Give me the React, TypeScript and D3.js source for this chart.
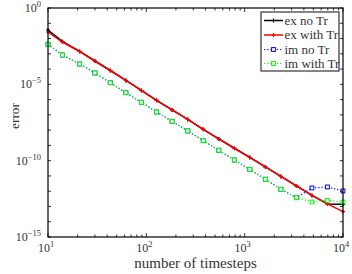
import React, { useEffect, useRef } from "react";
import * as d3 from "d3";

// number of timesteps (x) and errors
const timesteps = [10, 14, 21, 30, 43, 62, 89, 127, 183, 264, 379, 546, 785, 1129, 1624, 2336, 3360, 4833, 6952, 10000];

const exNoTr = [3.6e-2, 6.5e-3, 1.42e-3, 3.38e-4, 8.07e-5, 1.79e-5, 3.95e-6, 9.02e-7, 2.09e-7, 4.99e-8, 1.14e-8, 2.64e-9, 6.49e-10, 1.62e-10, 3.86e-11, 9.23e-12, 2.2e-12, 5.26e-13, 1.46e-13, 1.38e-13];
const exWithTr = [2.68e-2, 5.93e-3, 1.42e-3, 3.38e-4, 8.07e-5, 1.79e-5, 3.95e-6, 9.02e-7, 2.09e-7, 4.99e-8, 1.14e-8, 2.64e-9, 6.49e-10, 1.62e-10, 3.86e-11, 9.23e-12, 2.2e-12, 5.26e-13, 1.46e-13, 4.57e-14];
const imNoTr = [4.2e-3, 8.36e-4, 2.15e-4, 5.54e-5, 1.28e-5, 2.84e-6, 6.68e-7, 1.55e-7, 3.8e-8, 8.81e-9, 2.04e-9, 4.8e-10, 1.11e-10, 2.65e-11, 6.05e-12, 1.34e-12, 3.78e-13, 1.63e-12, 1.9e-12, 1.04e-12];
const imWithTr = [4.2e-3, 8.36e-4, 2.15e-4, 5.54e-5, 1.28e-5, 2.84e-6, 6.68e-7, 1.55e-7, 3.8e-8, 8.81e-9, 2.04e-9, 4.8e-10, 1.11e-10, 2.65e-11, 6.05e-12, 1.34e-12, 3.78e-13, 1.97e-13, 2.55e-13, 1.97e-13];

const seriesNames = ["ex no Tr", "ex with Tr", "im no Tr", "im with Tr"];
const xTickExps = [1, 2, 3, 4];
const yTickExps = [0, -5, -10, -15];

const FONT = "'Liberation Serif', 'Times New Roman', serif";

const App: React.FC = () => {
  const svgRef = useRef<SVGSVGElement | null>(null);

  useEffect(() => {
    if (!svgRef.current) return;
    const svg = d3.select(svgRef.current);
    svg.selectAll("*").remove();

    const left = 48, right = 343, top = 8, bottom = 237;
    const x = d3.scaleLog().domain([10, 1e4]).range([left, right]);
    const y = d3.scaleLog().domain([1e-15, 1]).range([bottom, top]);

    const styles = [
      { color: "#000", dash: null, width: 1.5, marker: "plus" },
      { color: "#ff0000", dash: null, width: 1.5, marker: "plus" },
      { color: "#0000ff", dash: "1.2,2", width: 1.2, marker: "square" },
      { color: "#00ff00", dash: "1.2,2", width: 1.2, marker: "square" },
    ];
    const allSeries = [exNoTr, exWithTr, imNoTr, imWithTr];

    const plot = svg.append("g");
    const line = d3.line<number>()
      .x((_, i) => x(timesteps[i]))
      .y((d) => y(d));

    const drawMarker = (g: any, kind: string, cx: number, cy: number, color: string) => {
      if (kind === "plus") {
        g.append("path")
          .attr("d", `M${cx - 2},${cy}H${cx + 2}M${cx},${cy - 2}V${cy + 2}`)
          .attr("stroke", color).attr("stroke-width", 1.1);
      } else {
        g.append("rect")
          .attr("x", cx - 1.9).attr("y", cy - 1.9).attr("width", 3.8).attr("height", 3.8)
          .attr("fill", "#fff").attr("stroke", color).attr("stroke-width", 1);
      }
    };

    allSeries.forEach((data, si) => {
      const s = styles[si];
      plot.append("path")
        .attr("d", line(data) || "")
        .attr("fill", "none")
        .attr("stroke", s.color)
        .attr("stroke-width", s.width)
        .attr("stroke-dasharray", s.dash);
      const mg = plot.append("g");
      data.forEach((d, i) => drawMarker(mg, s.marker, x(timesteps[i]), y(d), s.color));
    });

    // axes box + ticks
    const axes = svg.append("g").attr("stroke", "#000").attr("fill", "none");
    axes.append("rect")
      .attr("x", left).attr("y", top).attr("width", right - left).attr("height", bottom - top)
      .attr("stroke-width", 1.2);

    const xMinor: number[] = [];
    for (let e = 1; e < 4; e++) for (let m = 2; m <= 9; m++) xMinor.push(m * Math.pow(10, e));
    xMinor.forEach((v) => {
      axes.append("line").attr("x1", x(v)).attr("x2", x(v)).attr("y1", bottom).attr("y2", bottom - 2.5).attr("stroke-width", 0.8);
      axes.append("line").attr("x1", x(v)).attr("x2", x(v)).attr("y1", top).attr("y2", top + 2.5).attr("stroke-width", 0.8);
    });
    xTickExps.forEach((e) => {
      const v = Math.pow(10, e);
      axes.append("line").attr("x1", x(v)).attr("x2", x(v)).attr("y1", bottom).attr("y2", bottom - 4).attr("stroke-width", 0.8);
      axes.append("line").attr("x1", x(v)).attr("x2", x(v)).attr("y1", top).attr("y2", top + 4).attr("stroke-width", 0.8);
    });
    for (let e = -15; e <= 0; e++) {
      const v = Math.pow(10, e);
      axes.append("line").attr("x1", left).attr("x2", left + 3).attr("y1", y(v)).attr("y2", y(v)).attr("stroke-width", 0.8);
      axes.append("line").attr("x1", right).attr("x2", right - 3).attr("y1", y(v)).attr("y2", y(v)).attr("stroke-width", 0.8);
    }

    // tick labels
    const labels = svg.append("g").attr("font-family", FONT).attr("fill", "#333");
    xTickExps.forEach((e) => {
      const t = labels.append("text")
        .attr("x", x(Math.pow(10, e)) - 2).attr("y", 252)
        .attr("text-anchor", "middle").attr("font-size", 12);
      t.append("tspan").text("10");
      t.append("tspan").attr("font-size", 8.5).attr("dy", -5).text(String(e));
    });
    yTickExps.forEach((e) => {
      const t = labels.append("text")
        .attr("x", 41).attr("y", y(Math.pow(10, e)) + 4)
        .attr("text-anchor", "end").attr("font-size", 12);
      t.append("tspan").text("10");
      t.append("tspan").attr("font-size", 8.5).attr("dy", -5).text(e < 0 ? `\u2212${-e}` : String(e));
    });

    // axis titles
    svg.append("text")
      .attr("x", (left + right) / 2).attr("y", 268)
      .attr("text-anchor", "middle").attr("font-family", FONT).attr("font-size", 15).attr("fill", "#333")
      .text("number of timesteps");
    svg.append("text")
      .attr("transform", "translate(19, 116) rotate(-90)")
      .attr("text-anchor", "middle").attr("font-family", FONT).attr("font-size", 13.5).attr("fill", "#333")
      .text("error");

    // legend
    const lg = svg.append("g");
    lg.append("rect")
      .attr("x", 261).attr("y", 12).attr("width", 78).attr("height", 59)
      .attr("fill", "#fff").attr("stroke", "#333").attr("stroke-width", 1.2);
    const rows = [20.5, 35, 49.5, 63.5];
    seriesNames.forEach((name, i) => {
      const s = styles[i];
      const ry = rows[i];
      lg.append("line")
        .attr("x1", 264).attr("x2", 283).attr("y1", ry).attr("y2", ry)
        .attr("stroke", s.color).attr("stroke-width", s.width).attr("stroke-dasharray", s.dash);
      drawMarker(lg, s.marker, 273.5, ry, s.color);
      lg.append("text")
        .attr("x", 284.5).attr("y", ry + 4)
        .attr("font-family", FONT).attr("font-size", 13).attr("fill", "#333")
        .text(name);
    });
  }, []);

  return (
    <svg
      ref={svgRef}
      width={352}
      height={274}
      style={{ position: "absolute", left: 0, top: 0, background: "#fff" }}
    />
  );
};

export default App;
